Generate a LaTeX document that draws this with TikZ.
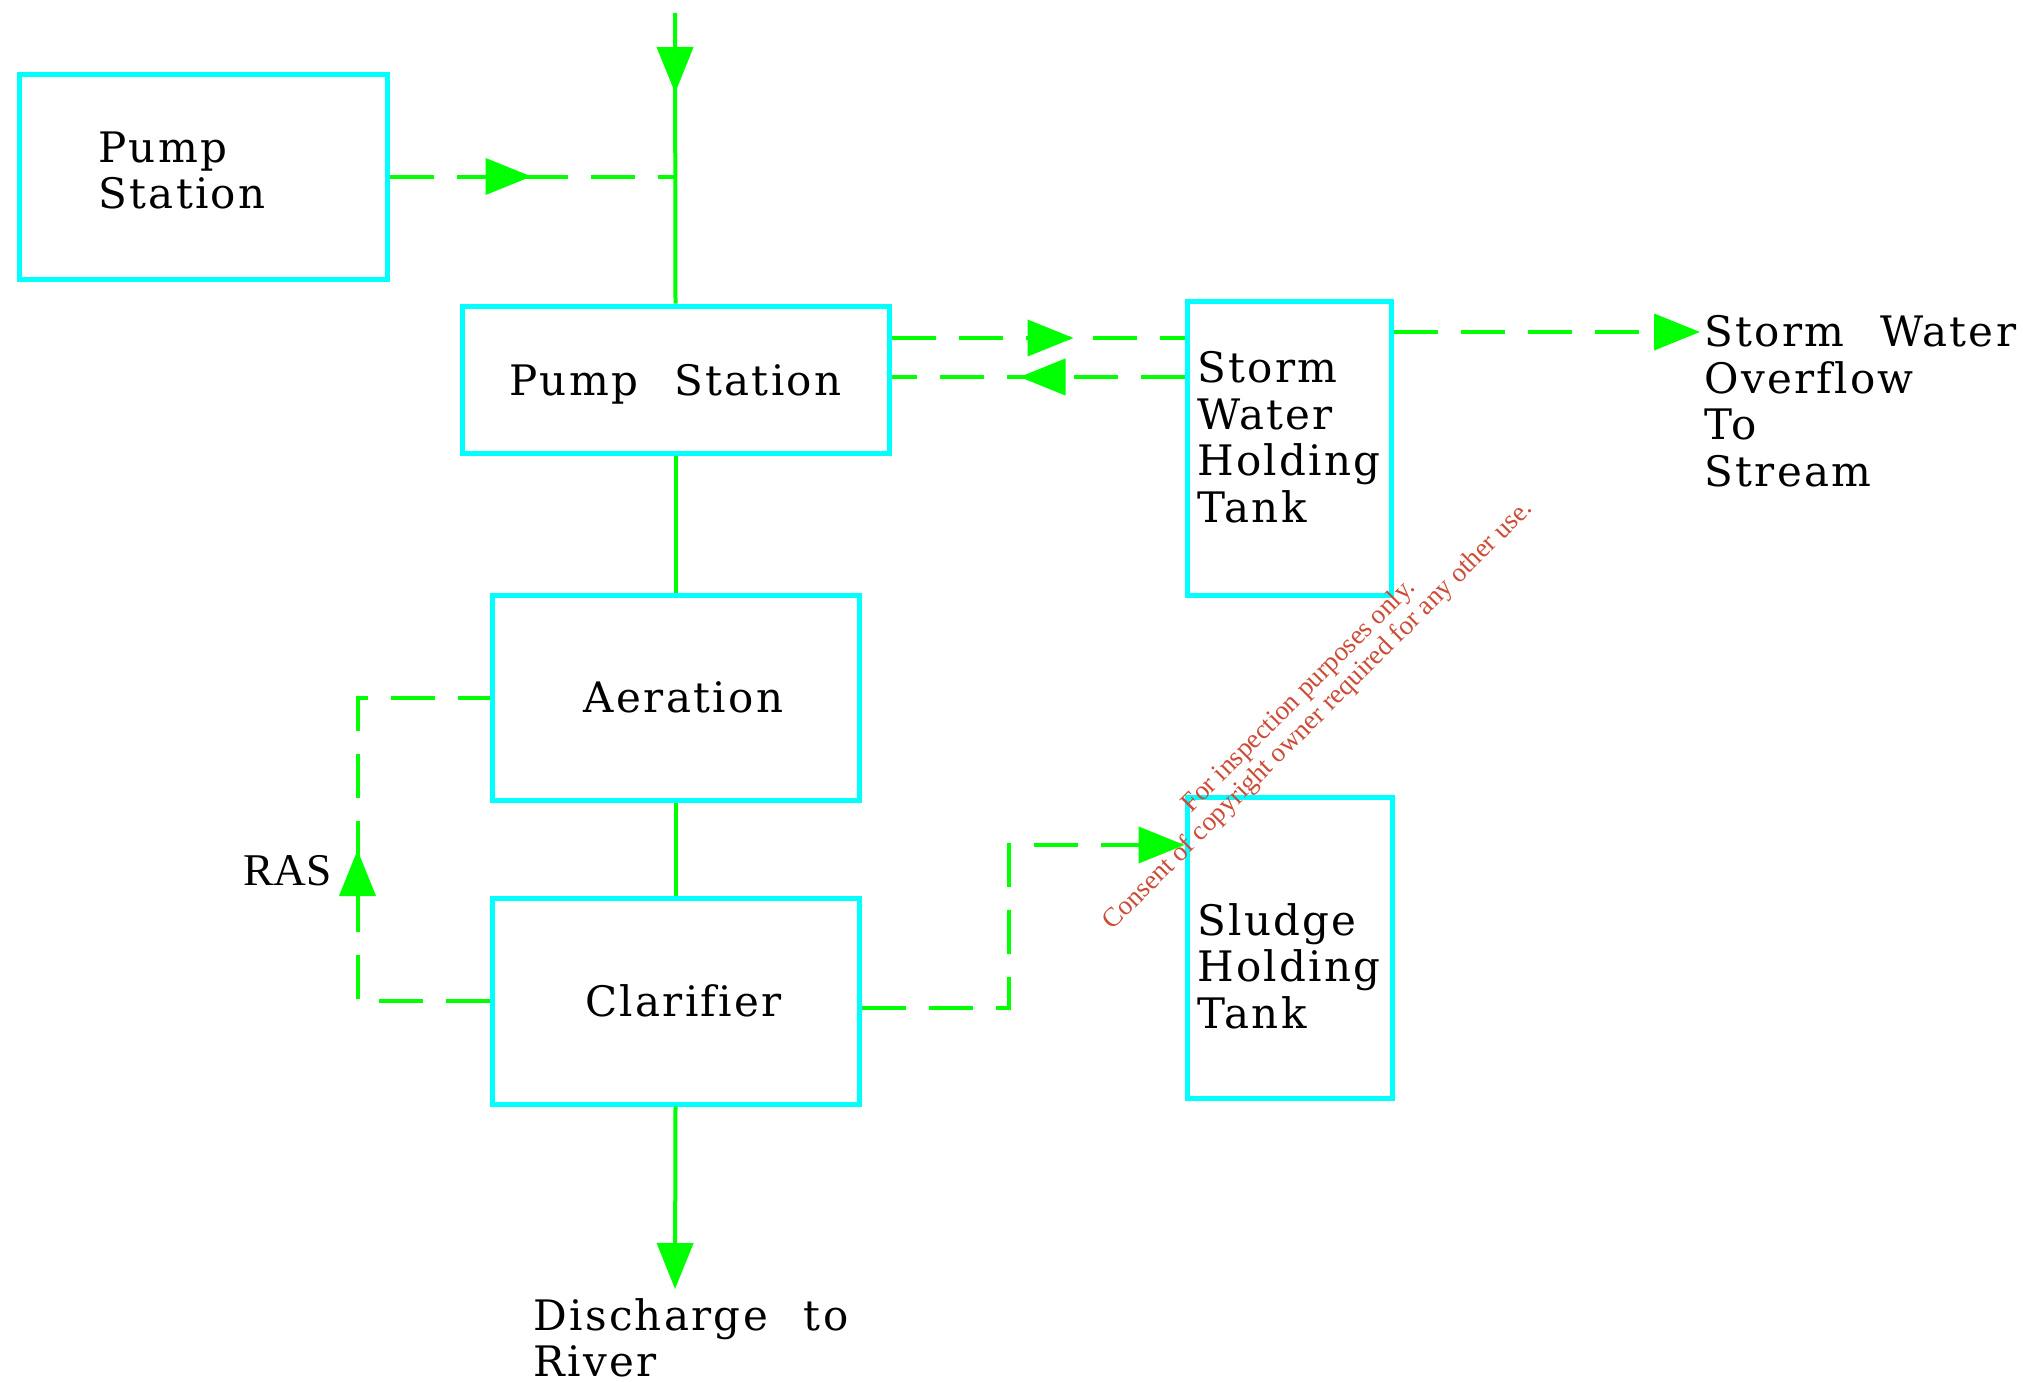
\documentclass[tikz,border=0pt]{standalone}
\usepackage{fontspec}
\usetikzlibrary{arrows.meta,decorations.markings,calc}
\newfontfamily\dfont{DejaVu Serif}[LetterSpace=5.5,WordSpace=2.3,Ligatures=NoCommon]
\newfontfamily\wmfont{Liberation Serif}
\newcommand\dtext{\dfont\fontsize{21pt}{23.3pt}\selectfont}
\definecolor{boxcyan}{RGB}{0,255,255}
\definecolor{flowgreen}{RGB}{0,255,0}
\definecolor{wmred}{RGB}{205,75,55}
\tikzset{
  flowtip/.tip={Triangle[length=23pt,width=18pt]},
  box/.style={draw=boxcyan, line width=2.5pt, inner sep=0pt, font=\dtext, text depth=0pt},
  lbl/.style={inner sep=0pt, font=\dtext, align=left, anchor=north west},
  flow/.style={flowgreen, line width=2pt},
  dflow/.style={flow, dash pattern=on 22pt off 11.5pt},
  midarrow/.style={postaction={decorate,decoration={markings,mark=at position #1 with {\arrow{flowtip}}}}},
  wm/.style={font=\wmfont\fontsize{13.5pt}{13.5pt}\selectfont, text=wmred, align=center, rotate=45, inner sep=0pt}
}
\begin{document}
\begin{tikzpicture}[x=0.5pt,y=-0.5pt]
\fill[white] (0,0) rectangle (2023,1381);
\useasboundingbox (0,0) rectangle (2023,1381);
% boxes
\node[box, minimum width=184pt, minimum height=102.5pt] (b1) at (203,176.5) {};
\node[lbl] (b1t) at (98,131) {Pump\\Station};
\node[box, minimum width=213.5pt, minimum height=73.5pt] (b2) at (675.5,379.5) {Pump Station};
\node[box, minimum width=183.5pt, minimum height=102.5pt] (ae) at (675.5,697.5) {\hspace*{8pt}Aeration};
\node[box, minimum width=183.5pt, minimum height=103pt] (cl) at (675.5,1001) {\hspace*{8pt}Clarifier};
\node[box, minimum width=102pt, minimum height=147pt] (st) at (1289,448) {};
\node[lbl] (stt) at (1197,351) {Storm\\Water\\Holding\\Tank};
\node[box, minimum width=102.5pt, minimum height=150.5pt] (sl) at (1289.5,947.5) {};
\node[lbl] (slt) at (1197,903) {Sludge\\Holding\\Tank};
\node[lbl] (ov) at (1704,315) {Storm Water\\Overflow\\To\\Stream};
\node[lbl] (dis) at (533,1298) {Discharge to\\River};
\node[font=\wmfont\fontsize{22.7pt}{27pt}\selectfont, anchor=base east, inner sep=0pt] (ras) at (332,885) {RAS};
\node[wm] (wmk) at (1309,706) {For inspection purposes only.\\Consent of copyright owner required for any other use.};
% coordinates
\coordinate (top) at (675,13);
\coordinate (j1) at (b1.east -| top);
\coordinate (out) at (675,1289);
\coordinate (ovend) at (1700,332);
% solid flows
\draw[flow, midarrow=40pt] (top) -- (b2.north);
\draw[flow] (b2.south) -- (ae.north);
\draw[flow] (ae.south) -- (cl.north);
\draw[flow, -{flowtip}] (cl.south) -- (out);
% dashed flows
\draw[dflow, midarrow=71pt] (b1.east) -- (j1);
\draw[dflow, midarrow=91pt] ($(b2.east)+(0,-41.5)$) -- ($(st.west)+(0,-110)$);
\draw[dflow, midarrow=82.5pt] ($(st.west)+(0,-71)$) -- ($(b2.east)+(0,-2.5)$);
\draw[dflow, -{flowtip}] ($(st.east)+(0,-116)$) -- (ovend);
\draw[dflow, -{flowtip}] ($(cl.east)+(0,7)$) -- ++(147,0) |- ($(sl.west)+(0,-102.5)$);
\draw[dflow, midarrow=141.5pt] (cl.west) -- ++(-132,0) |- (ae.west);
\end{tikzpicture}
\end{document}
